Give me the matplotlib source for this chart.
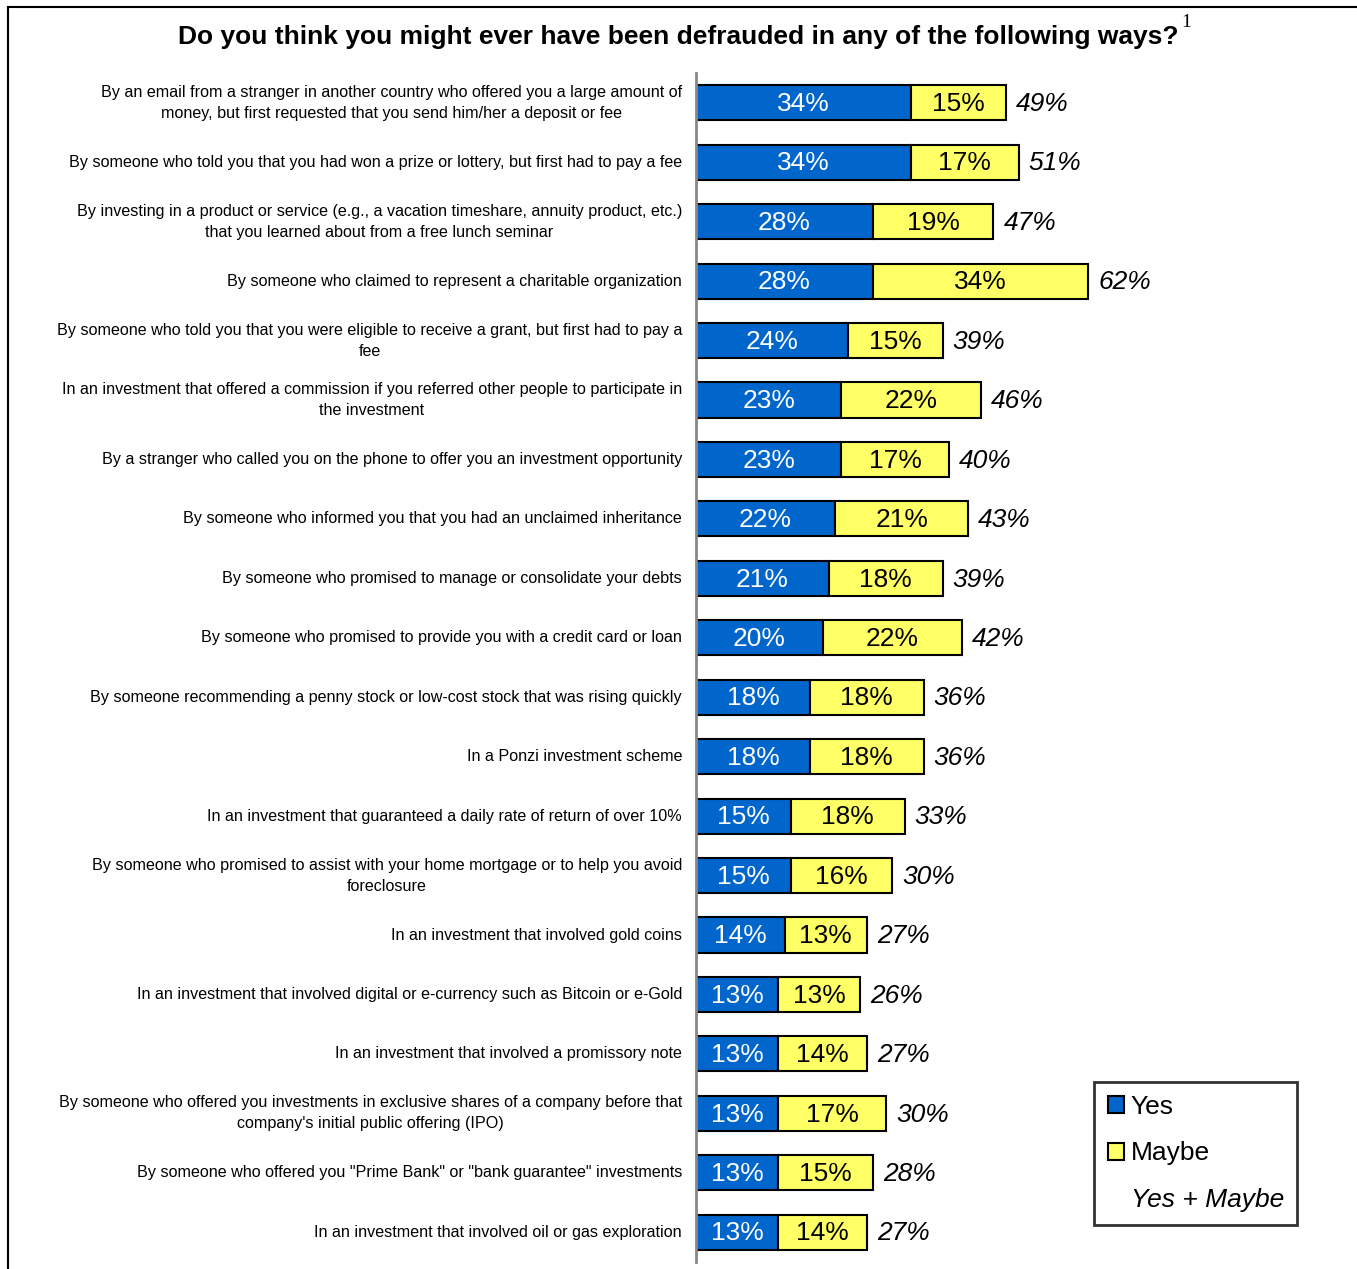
import matplotlib.pyplot as plt
from matplotlib.patches import Patch
from matplotlib.lines import Line2D

plt.rcParams['font.family'] = ['Liberation Sans', 'DejaVu Sans']

# Data
categories = [
    "By an email from a stranger in another country who offered you a large amount of\nmoney, but first requested that you send him/her a deposit or fee",
    "By someone who told you that you had won a prize or lottery, but first had to pay a fee",
    "By investing in a product or service (e.g., a vacation timeshare, annuity product, etc.)\nthat you learned about from a free lunch seminar",
    "By someone who claimed to represent a charitable organization",
    "By someone who told you that you were eligible to receive a grant, but first had to pay a\nfee",
    "In an investment that offered a commission if you referred other people to participate in\nthe investment",
    "By a stranger who called you on the phone to offer you an investment opportunity",
    "By someone who informed you that you had an unclaimed inheritance",
    "By someone who promised to manage or consolidate your debts",
    "By someone who promised to provide you with a credit card or loan",
    "By someone recommending a penny stock or low-cost stock that was rising quickly",
    "In a Ponzi investment scheme",
    "In an investment that guaranteed a daily rate of return of over 10%",
    "By someone who promised to assist with your home mortgage or to help you avoid\nforeclosure",
    "In an investment that involved gold coins",
    "In an investment that involved digital or e-currency such as Bitcoin or e-Gold",
    "In an investment that involved a promissory note",
    "By someone who offered you investments in exclusive shares of a company before that\ncompany's initial public offering (IPO)",
    "By someone who offered you \"Prime Bank\" or \"bank guarantee\" investments",
    "In an investment that involved oil or gas exploration",
]
yes = [34, 34, 28, 28, 24, 23, 23, 22, 21, 20, 18, 18, 15, 15, 14, 13, 13, 13, 13, 13]
maybe = [15, 17, 19, 34, 15, 22, 17, 21, 18, 22, 18, 18, 18, 16, 13, 13, 14, 17, 15, 14]
total = [49, 51, 47, 62, 39, 46, 40, 43, 39, 42, 36, 36, 33, 30, 27, 26, 27, 30, 28, 27]

blue = '#0066CC'
yellow = '#FFFF66'

fig = plt.figure(figsize=(13.57, 12.69), dpi=100)
ax = fig.add_axes([696 / 1357, 1 - 1262 / 1269, (1357 - 696) / 1357, (1262 - 73) / 1269])

y = list(range(len(categories)))
ax.barh(y, yes, height=0.59, color=blue, edgecolor='black', linewidth=1.5)
ax.barh(y, maybe, left=yes, height=0.59, color=yellow, edgecolor='black', linewidth=1.5)

for i in y:
    ax.text(yes[i] / 2, i + 0.02, f"{yes[i]}%", ha='center', va='center', color='white', fontsize=19)
    ax.text(yes[i] + maybe[i] / 2, i + 0.02, f"{maybe[i]}%", ha='center', va='center', color='black', fontsize=19)
    ax.text(yes[i] + maybe[i] + 1.6, i + 0.02, f"{total[i]}%", ha='left', va='center',
            color='black', fontsize=19, style='italic')

ax.set_xlim(0, 104.5)
ax.set_ylim(len(categories) - 0.5, -0.5)
ax.set_yticks(y)
ax.set_yticklabels(categories, fontsize=11.6, linespacing=1.5)
for lbl in ax.get_yticklabels():
    lbl.set_multialignment('center')
    lbl.set_va('center')
ax.tick_params(axis='y', length=0, pad=10)
ax.set_xticks([])
for s in ['top', 'right', 'bottom']:
    ax.spines[s].set_visible(False)
ax.spines['left'].set_color('#888888')
ax.spines['left'].set_linewidth(2)

# Legend
handles = [Patch(facecolor=blue, edgecolor='black', linewidth=1.5),
           Patch(facecolor=yellow, edgecolor='black', linewidth=1.5),
           Patch(facecolor='none', edgecolor='none')]
leg = ax.legend(handles, ['Yes', 'Maybe', 'Yes + Maybe'], loc='lower right',
                bbox_to_anchor=(1297 / 1357, 1 - 1225 / 1269), bbox_transform=fig.transFigure,
                fontsize=19, frameon=True, fancybox=False, handlelength=0.62, handleheight=0.62,
                handletextpad=0.25, labelspacing=0.85, borderpad=0.5, borderaxespad=0)
leg.get_frame().set_edgecolor('black')
leg.get_frame().set_linewidth(2)
leg.get_texts()[2].set_style('italic')

# Title
title = fig.text(0.5, 1 - 37 / 1269, "Do you think you might ever have been defrauded in any of the following ways?",
                 ha='center', va='center', fontsize=19, fontweight='bold')
ax.annotate("1", xy=(1, 1), xycoords=title, xytext=(2, 8), textcoords='offset points',
            ha='left', va='top', fontsize=14, family='Liberation Serif', annotation_clip=False)

# Frame lines
fig.add_artist(Line2D([8 / 1357, 1], [1 - 7 / 1269, 1 - 7 / 1269], color='black', linewidth=1.5))
fig.add_artist(Line2D([8 / 1357, 8 / 1357], [0, 1 - 7 / 1269], color='black', linewidth=1.5))

fig.savefig('out.png', dpi=100)
